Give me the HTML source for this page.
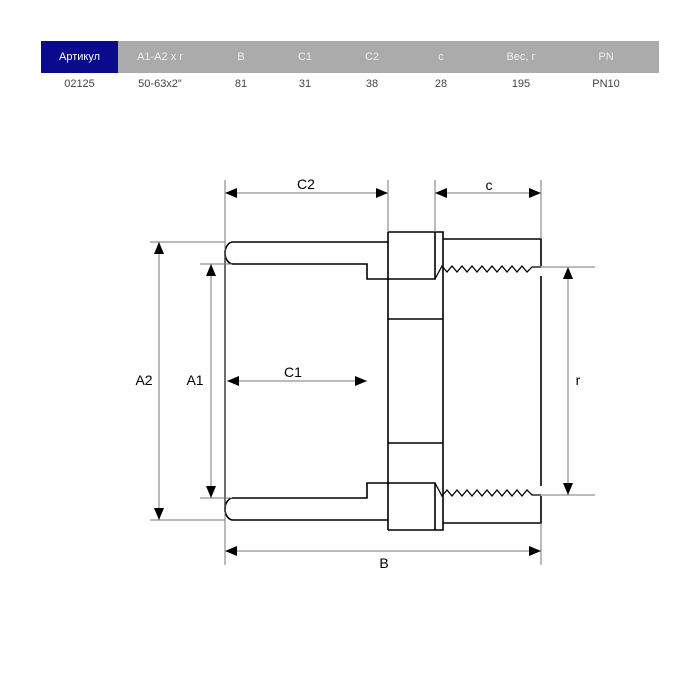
<!DOCTYPE html>
<html><head><meta charset="utf-8"><style>
body{margin:0;width:700px;height:700px;background:#fff;font-family:"Liberation Sans",sans-serif;}
.t{position:absolute;font-size:11px;text-align:center;}
</style></head><body>
<div style="position:absolute;left:41px;top:41px;width:618px;height:32px;background:#ababab"></div>
<div style="position:absolute;left:41px;top:41px;width:77px;height:32px;background:#0a0a8c"></div>
<div class="t" style="left:41px;top:51px;width:77px;color:#fff">Артикул</div>
<div class="t" style="left:120px;top:51px;width:80px;color:#eee">A1-A2 x r</div>
<div class="t" style="left:221px;top:51px;width:40px;color:#eee">B</div>
<div class="t" style="left:285px;top:51px;width:40px;color:#eee">C1</div>
<div class="t" style="left:352px;top:51px;width:40px;color:#eee">C2</div>
<div class="t" style="left:421px;top:51px;width:40px;color:#eee">c</div>
<div class="t" style="left:491px;top:51px;width:60px;color:#eee">Вес, г</div>
<div class="t" style="left:586px;top:51px;width:40px;color:#eee">PN</div>
<div class="t" style="left:41px;top:78px;width:77px;color:#444">02125</div>
<div class="t" style="left:120px;top:78px;width:80px;color:#444">50-63x2"</div>
<div class="t" style="left:221px;top:78px;width:40px;color:#444">81</div>
<div class="t" style="left:285px;top:78px;width:40px;color:#444">31</div>
<div class="t" style="left:352px;top:78px;width:40px;color:#444">38</div>
<div class="t" style="left:421px;top:78px;width:40px;color:#444">28</div>
<div class="t" style="left:491px;top:78px;width:60px;color:#444">195</div>
<div class="t" style="left:586px;top:78px;width:40px;color:#444">PN10</div>
<svg width="700" height="700" style="position:absolute;left:0;top:0">
<defs>
<g id="half">
<path d="M388,242 H233 A8,11 0 0 0 233,264 H367 V279 H388" fill="none" stroke="#000" stroke-width="1.6"/>
<path d="M388,232 H443 V381 M388,232 V381 M435,232 V279 H388 M388,319 H443 M443,239 H541 V266" fill="none" stroke="#000" stroke-width="1.6"/>
<path d="M435,279 L442,266 L447,272 L452,266 L457,272 L462,266 L467,272 L472,266 L477,272 L482,266 L487,272 L492,266 L497,272 L502,266 L507,272 L512,266 L517,272 L522,266 L527,272 L532,267 H541" fill="none" stroke="#000" stroke-width="1.3"/>
<path d="M541,276 V381" stroke="#000" stroke-width="1.6"/>
</g>
</defs>
<use href="#half"/>
<use href="#half" transform="translate(0,762) scale(1,-1)"/>
<path d="M225,250 V512" stroke="#000" stroke-width="1.6"/>
<g stroke="#777" stroke-width="1" fill="none">
<path d="M225,180 V565 M388,180 V232 M435,180 V232 M541,180 V239 M541,523 V565"/>
<path d="M150,242 H225 M150,520 H225 M200,264 H232 M200,498 H232 M541,267 H595 M541,495 H595"/>
<path d="M225,193 H388 M435,193 H541 M159,242 V520 M211,264 V498 M227,381 H367 M568,267 V495 M225,551 H541"/>
</g>
<g fill="#000">
<path d="M225,193 l12,-5 v10z M388,193 l-12,-5 v10z M435,193 l12,-5 v10z M541,193 l-12,-5 v10z"/>
<path d="M159,242 l-5,12 h10z M159,520 l-5,-12 h10z M211,264 l-5,12 h10z M211,498 l-5,-12 h10z"/>
<path d="M227,381 l12,-5 v10z M367,381 l-12,-5 v10z M568,267 l-5,12 h10z M568,495 l-5,-12 h10z"/>
<path d="M225,551 l12,-5 v10z M541,551 l-12,-5 v10z"/>
</g>
<g font-family="Liberation Sans,sans-serif" font-size="14" fill="#000" text-anchor="middle">
<text x="306" y="189">C2</text><text x="489" y="190">c</text>
<text x="144" y="385">A2</text><text x="195" y="385">A1</text>
<text x="293" y="377">C1</text><text x="578" y="385">r</text>
<text x="384" y="568">B</text>
</g>
</svg>
</body></html>
